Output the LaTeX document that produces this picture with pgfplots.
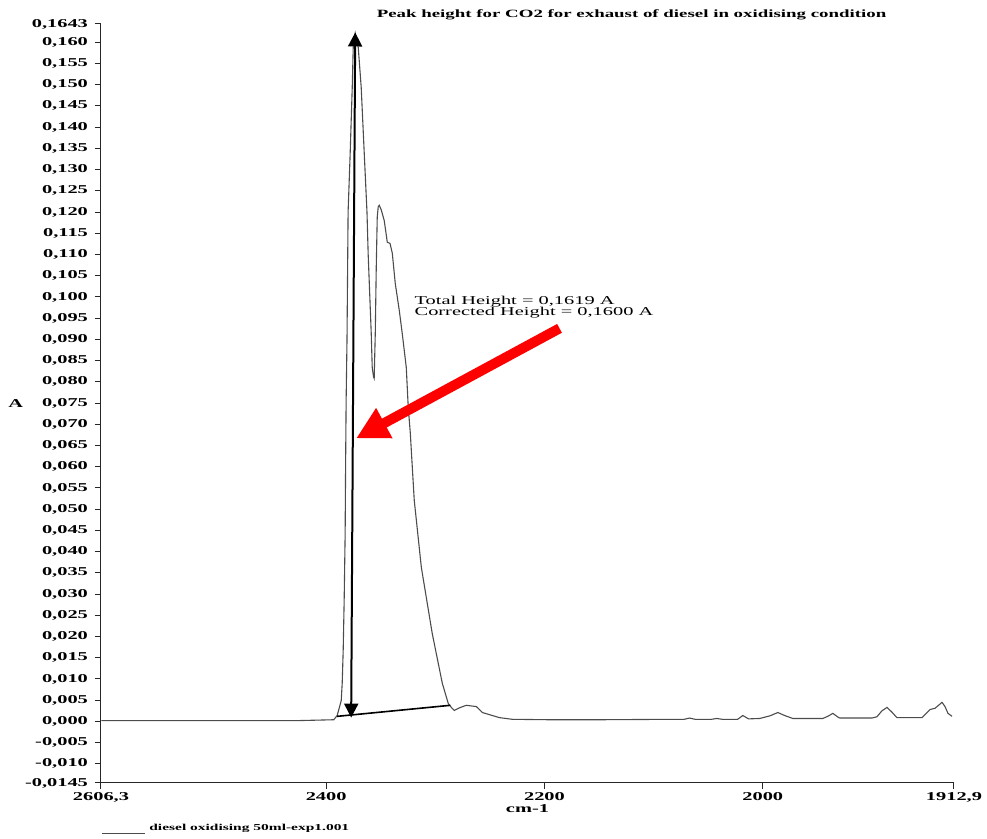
\documentclass[border=0pt]{standalone}
\usepackage{fontspec}
\setmainfont[FakeStretch=1.7]{Liberation Serif}
\usepackage{pgfplots}
\usepackage{pgfplotstable}
\pgfplotsset{compat=1.18}
\usetikzlibrary{arrows.meta}

\newcommand\lbl{\bfseries\fontsize{6}{7}\selectfont}

% absorbance spectrum (wavenumber, A)
\pgfplotstableread{
wn A
2606.0 0.0002
2516.0 0.0002
2425.0 0.0002
2393.0 0.0004
2389.9 0.0014
2386.2 0.0049
2385.3 0.0090
2384.4 0.0167
2383.5 0.0285
2382.6 0.0443
2382.2 0.0598
2381.7 0.0756
2380.9 0.0900
2380.4 0.1050
2379.9 0.1200
2378.0 0.1338
2376.1 0.1494
2375.2 0.1588
2374.3 0.1609
2373.4 0.1621
2372.5 0.1609
2370.6 0.1588
2367.9 0.1494
2365.1 0.1338
2362.6 0.1200
2361.5 0.1100
2358.7 0.0914
2357.8 0.0834
2356.6 0.0812
2356.0 0.0808
2355.0 0.0914
2354.1 0.1070
2353.2 0.1188
2352.3 0.1212
2351.4 0.1216
2349.5 0.1205
2346.8 0.1180
2344.0 0.1129
2341.5 0.1126
2339.4 0.1103
2336.7 0.1032
2333.0 0.0968
2330.3 0.0914
2326.6 0.0834
2324.8 0.0740
2322.9 0.0679
2319.3 0.0521
2312.8 0.0363
2302.8 0.0207
2293.6 0.0090
2288.1 0.0042
2285.3 0.0033
2282.6 0.0026
2278.0 0.0032
2271.6 0.0038
2262.4 0.0035
2256.9 0.0021
2241.3 0.0009
2229.4 0.0005
2195.0 0.0004
2150.0 0.0004
2082.6 0.0005
2072.0 0.0005
2067.0 0.0008
2062.0 0.0005
2047.0 0.0005
2042.2 0.0007
2037.0 0.0005
2023.0 0.0005
2018.3 0.0014
2013.0 0.0006
2002.8 0.0007
1993.6 0.0013
1986.2 0.0021
1980.0 0.0014
1972.5 0.0007
1945.0 0.0007
1940.4 0.0012
1935.8 0.0019
1931.0 0.0010
1929.4 0.0008
1900.0 0.0008
1895.4 0.0011
1890.8 0.0025
1886.2 0.0033
1881.7 0.0022
1877.1 0.0009
1854.1 0.0009
1846.8 0.0028
1842.2 0.0031
1838.0 0.0040
1835.8 0.0045
1833.0 0.0035
1830.3 0.0019
1826.6 0.0012
}\spectrum

\begin{document}
\begin{tikzpicture}
\begin{axis}[
    at={(0,0)}, anchor=south west,
    scale only axis,
    width=426.5pt, height=379.5pt,
    clip=false,
    x dir=reverse,
    xmin=1824.8, xmax=2606.3,
    ymin=-0.0145, ymax=0.1643,
    axis x line*=bottom, axis y line*=left,
    axis line style={black!85, line width=0.5pt},
    every tick/.style={black!85, line width=0.5pt},
    tick align=outside,
    major tick length=3pt,
    scaled y ticks=false,
    /pgf/number format/assume math mode=true,
    ticklabel style={font=\lbl},
    xtick={2400,2200,2000},
    xticklabel style={/pgf/number format/1000 sep={}, yshift=2pt},
    extra x ticks={2606.3,1824.8},
    extra x tick labels={{2606,3},{1912,9}},
    ytick={-0.010,-0.005,0,0.005,0.010,0.015,0.020,0.025,0.030,0.035,0.040,
           0.045,0.050,0.055,0.060,0.065,0.070,0.075,0.080,0.085,0.090,0.095,
           0.100,0.105,0.110,0.115,0.120,0.125,0.130,0.135,0.140,0.145,0.150,
           0.155,0.160},
    yticklabel style={/pgf/number format/.cd, fixed, fixed zerofill,
                      precision=3, use comma},
    extra y ticks={-0.0145,0.1643},
    extra y tick style={yticklabel style={/pgf/number format/.cd, fixed,
                      fixed zerofill, precision=4, use comma}},
    every axis title shift=0pt,
    title={\bfseries\fontsize{5.55}{6.5}\selectfont Peak height for CO2 for exhaust of diesel in oxidising condition},
    title style={at={(axis description cs:0.622,1)}, anchor=base, yshift=3.4pt,
                 inner sep=0pt},
    xlabel={\lbl cm-1},
    xlabel style={at={(axis description cs:0.5,0)}, anchor=north, yshift=-10.5pt,
                  inner sep=0pt},
    ylabel={\lbl A},
    ylabel style={at={(axis description cs:-0.1,0.5)}, anchor=center, rotate=-90},
    legend style={at={(axis description cs:0,-0.0606)}, anchor=west,
                  draw=none, fill=none, inner sep=0pt,
                  font=\bfseries\fontsize{4.55}{5.5}\selectfont},
    legend cell align=left,
    legend image code/.code={\draw[black!70, line width=0.5pt]
                             (0pt,-2.5pt) -- (21.5pt,-2.5pt);},
]
\addplot[black!70, line width=0.55pt] table[x=wn, y=A] {\spectrum};
\addlegendentry{diesel oxidising 50ml-exp1.001}

% peak height construction
\draw[black, line width=0.8pt] (axis cs:2389.9,0.0012) -- (axis cs:2286.2,0.0038);
\draw[black, line width=1pt,
      {Triangle[width=7pt,length=7pt]}-{Triangle[width=7pt,length=7pt]}]
      (axis cs:2373.4,0.1623) -- (axis cs:2377.1,0.0009);
\draw[red, line width=5pt, -{Triangle[width=16pt,length=16pt]}]
      (axis cs:2186.2,0.0926) -- (axis cs:2372.5,0.0667);
\node[anchor=base west, inner sep=0pt, font=\fontsize{6}{7}\selectfont]
      at (axis cs:2319.3,0.0983) {Total Height = 0,1619 A};
\node[anchor=base west, inner sep=0pt, font=\fontsize{6}{7}\selectfont]
      at (axis cs:2319.3,0.0957) {Corrected Height = 0,1600 A};
\end{axis}
\pgfresetboundingbox
\useasboundingbox (-50.5pt,-28pt) rectangle (443pt,391.5pt);
\end{tikzpicture}
\end{document}
